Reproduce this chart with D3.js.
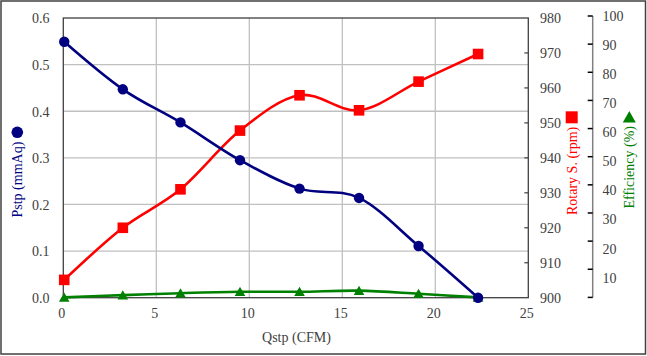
<!DOCTYPE html>
<html><head><meta charset="utf-8">
<script src="https://cdn.jsdelivr.net/npm/d3@7"></script>
<style>
html,body{margin:0;padding:0;background:#fff;}
svg{display:block;}
svg text{font-family:"Liberation Serif","Times New Roman",serif;}
</style></head>
<body>
<svg id="c" width="647" height="356" font-family="Liberation Serif, serif"></svg>
<script>
// ---- data ----
const qstp = [0.05, 3.2, 6.3, 9.5, 12.7, 15.9, 19.1, 22.3];
const pstp = [0.549, 0.447, 0.376, 0.295, 0.234, 0.214, 0.111, 0.0];
const rotary = [905.1, 920.0, 931.0, 947.8, 957.9, 953.6, 961.8, 969.7];
const efficiency = [0, 0.8, 1.5, 2.0, 2.0, 2.4, 1.3, 0];
const xTicks = [0, 5, 10, 15, 20, 25];
const pstpTicks = [0, 0.1, 0.2, 0.3, 0.4, 0.5, 0.6];
const rotaryTicks = [900, 910, 920, 930, 940, 950, 960, 970, 980];
const effTicks = [0, 10, 20, 30, 40, 50, 60, 70, 80, 90, 100];

const svg = d3.select("#c");
const FF = "Liberation Serif, Times New Roman, serif";
const L = 63.3, R = 528.3, T = 18, B = 297.7;

const x = d3.scaleLinear().domain([0, 25]).range([L, R]);
const yP = d3.scaleLinear().domain([0, 0.6]).range([B, T]);
const yR = d3.scaleLinear().domain([900, 980]).range([B, T]);
const yE = d3.scaleLinear().domain([0, 100]).range([297.4, 16]);
const yELabel = d3.scaleLinear().domain([10, 100]).range([277.7, 16]);

// outer border
svg.append("rect").attr("x", 1).attr("y", 1).attr("width", 644.5).attr("height", 353)
  .attr("fill", "none").attr("stroke", "#404040").attr("stroke-width", 1.5);

// gridlines
const grid = svg.append("g").attr("stroke", "#c0c0c0").attr("stroke-width", 1.3);
xTicks.slice(1, -1).forEach(v => grid.append("line").attr("x1", x(v)).attr("x2", x(v)).attr("y1", T).attr("y2", B));
pstpTicks.slice(1, -1).forEach(v => grid.append("line").attr("x1", L).attr("x2", R).attr("y1", yP(v)).attr("y2", yP(v)));

// plot frame
svg.append("rect").attr("x", L).attr("y", T).attr("width", R - L).attr("height", B - T)
  .attr("fill", "none").attr("stroke", "#404040").attr("stroke-width", 1.3);

const tc = "#404040";
// x tick labels
svg.append("g").selectAll("text").data(xTicks).join("text")
  .attr("font-family", FF)
  .attr("x", d => x(d) - 1.5).attr("y", 313).attr("dy", "0.35em")
  .attr("text-anchor", "middle").attr("font-size", 14).attr("fill", tc)
  .text(d => d);
// left tick labels
svg.append("g").selectAll("text").data(pstpTicks).join("text")
  .attr("font-family", FF)
  .attr("x", 49.5).attr("y", d => yP(d) + 0.5).attr("dy", "0.35em")
  .attr("text-anchor", "end").attr("font-size", 14).attr("fill", tc)
  .text(d => d.toFixed(1));
// right rotary ticks (inside) + labels
svg.append("g").selectAll("line").data(rotaryTicks.slice(1, -1)).join("line")
  .attr("x1", R - 4).attr("x2", R).attr("y1", d => yR(d)).attr("y2", d => yR(d))
  .attr("stroke", "#404040").attr("stroke-width", 1.2);
svg.append("g").selectAll("text").data(rotaryTicks).join("text")
  .attr("font-family", FF)
  .attr("x", 540).attr("y", d => yR(d) + 0.5).attr("dy", "0.35em")
  .attr("text-anchor", "start").attr("font-size", 14).attr("fill", tc)
  .text(d => d);
// efficiency axis
const EX = 592.7;
svg.append("line").attr("x1", EX).attr("x2", EX).attr("y1", yE(100)).attr("y2", yE(0))
  .attr("stroke", "#808080").attr("stroke-width", 1.5);
svg.append("g").selectAll("line").data(effTicks).join("line")
  .attr("x1", EX - 5).attr("x2", EX).attr("y1", d => yE(d)).attr("y2", d => yE(d))
  .attr("stroke", "#000").attr("stroke-width", 1.5);
svg.append("g").selectAll("text").data(effTicks.slice(1)).join("text")
  .attr("font-family", FF)
  .attr("x", 602.5).attr("y", d => yELabel(d)).attr("dy", "0.35em")
  .attr("text-anchor", "start").attr("font-size", 14).attr("fill", tc)
  .text(d => d);

// axis titles
svg.append("text").attr("font-family", FF).attr("x", 296.5).attr("y", 337).attr("dy", "0.35em")
  .attr("text-anchor", "middle").attr("font-size", 14).attr("fill", tc).text("Qstp (CFM)");
svg.append("text").attr("font-family", FF).attr("transform", "translate(22,217.5) rotate(-90)")
  .attr("text-anchor", "start").attr("font-size", 14).attr("fill", "#000080").text("Pstp (mmAq)");
svg.append("circle").attr("cx", 17.3).attr("cy", 132.3).attr("r", 5.8).attr("fill", "#000080");
svg.append("text").attr("font-family", FF).attr("transform", "translate(576.5,215) rotate(-90)")
  .attr("text-anchor", "start").attr("font-size", 14).attr("fill", "#ff0000").text("Rotary S. (rpm)");
svg.append("rect").attr("x", 571.7 - 6).attr("y", 117.3 - 6).attr("width", 12).attr("height", 12).attr("fill", "#ff0000");
svg.append("text").attr("font-family", FF).attr("transform", "translate(634,208.5) rotate(-90)")
  .attr("text-anchor", "start").attr("font-size", 14).attr("fill", "#008000").text("Efficiency (%)");
svg.append("path").attr("transform", "translate(629.3,117)")
  .attr("d", "M0,-6 L6.5,5.5 L-6.5,5.5 Z").attr("fill", "#008000");

// series
const curve = d3.curveCatmullRom.alpha(0);
function series(vals, y, color) {
  const pts = qstp.map((q, i) => [x(q), y(vals[i])]);
  svg.append("path").attr("d", d3.line().curve(curve)(pts))
    .attr("fill", "none").attr("stroke", color).attr("stroke-width", 2.6);
  return pts;
}
const pe = series(efficiency, yE, "#008000");
svg.append("g").selectAll("path").data(pe).join("path")
  .attr("transform", d => `translate(${d[0]},${d[1]})`)
  .attr("d", "M0,-5 L5.3,4.3 L-5.3,4.3 Z").attr("fill", "#008000");
const pr = series(rotary, yR, "#ff0000");
svg.append("g").selectAll("rect").data(pr).join("rect")
  .attr("x", d => d[0] - 5.3).attr("y", d => d[1] - 5.3).attr("width", 10.6).attr("height", 10.6)
  .attr("fill", "#ff0000");
const pp = series(pstp, yP, "#000080");
svg.append("g").selectAll("circle").data(pp).join("circle")
  .attr("cx", d => d[0]).attr("cy", d => d[1]).attr("r", 5.2).attr("fill", "#000080");
</script>
</body></html>
